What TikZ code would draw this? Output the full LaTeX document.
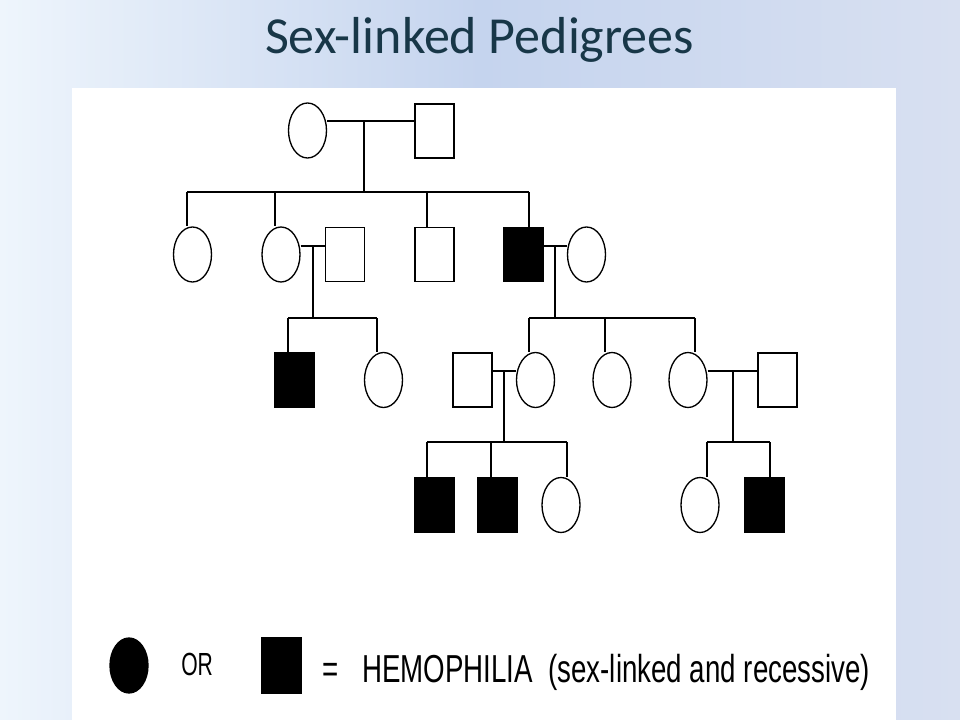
\documentclass[tikz,border=0pt]{standalone}
\usepackage{fontspec}
\setmainfont{Liberation Sans}
\newfontfamily\titlefont{Carlito}
\usetikzlibrary{shapes.geometric}
\definecolor{titlecol}{RGB}{24,55,72}
\definecolor{bgleft}{RGB}{238,245,252}
\definecolor{bgmid}{RGB}{197,212,238}
\definecolor{bgright}{RGB}{216,224,241}
\tikzset{
  female/.style={draw=black, ellipse, minimum width=28.5pt, minimum height=41.25pt, inner sep=0pt, line width=1pt},
  male/.style={draw=black, rectangle, minimum width=29.25pt, minimum height=40.5pt, inner sep=0pt, line width=1pt},
  affected/.style={fill=black},
  link/.style={line width=1.1pt, black},
}
\begin{document}
\begin{tikzpicture}[x=0.75pt, y=-0.75pt]
\useasboundingbox (0,0) rectangle (960,720);
\shade[left color=bgleft, right color=bgright, middle color=bgmid] (0,0) rectangle (960,720);
\fill[white] (72,88) rectangle (896,720);
\node[font=\titlefont\fontsize{39pt}{44pt}\selectfont, text=titlecol, anchor=base, inner sep=0pt] (title) at (479.5,54) {Sex-linked Pedigrees};

% generation 1
\node[female] (g1f) at (307.5,130.5) {};
\node[male] (g1m) at (434.5,131) {};
% generation 2
\node[female] (g2a) at (192.5,254.5) {};
\node[female] (g2b) at (281,254.5) {};
\node[male] (g2bh) at (345,254.5) {};
\node[male] (g2c) at (434.5,254.5) {};
\node[male, affected] (g2d) at (523.5,254.5) {};
\node[female] (g2dw) at (586.5,254.5) {};
% generation 3
\node[male, affected] (g3a) at (294.5,380) {};
\node[female] (g3b) at (383.5,380) {};
\node[male] (g3ch) at (472.5,380) {};
\node[female] (g3c) at (535.5,380) {};
\node[female] (g3d) at (612,380) {};
\node[female] (g3e) at (688,380) {};
\node[male] (g3eh) at (777.5,380) {};
% generation 4
\node[male, affected] (g4a) at (434.5,505) {};
\node[male, affected] (g4b) at (497.5,505) {};
\node[female] (g4c) at (561,505) {};
\node[female] (g4d) at (700,505) {};
\node[male, affected] (g4e) at (764.5,505) {};

% junction coordinates
\coordinate (m1) at (364,121);
\coordinate (s1) at (364,192);
\coordinate (s1a) at (187,192);
\coordinate (s1b) at (275,192);
\coordinate (s1c) at (427,192);
\coordinate (s1d) at (529,192);
\coordinate (m2) at (313,246);
\coordinate (s2) at (313,318);
\coordinate (s2a) at (288,318);
\coordinate (s2b) at (377,318);
\coordinate (m3) at (555,246);
\coordinate (s3) at (555,318);
\coordinate (s3a) at (529,318);
\coordinate (s3b) at (605,318);
\coordinate (s3c) at (695,318);
\coordinate (m4) at (504,371);
\coordinate (s4) at (504,442);
\coordinate (s4a) at (427,442);
\coordinate (s4b) at (491,442);
\coordinate (s4c) at (567,442);
\coordinate (m5) at (733,371);
\coordinate (s5) at (733,442);
\coordinate (s5a) at (707,442);
\coordinate (s5b) at (770,442);

% generation 1 family
\draw[link] (g1f.east |- m1) -- (g1m.west |- m1);
\draw[link] (m1) -- (s1);
\draw[link] (s1a) -- (s1d);
\draw[link] (s1a) -- (s1a |- g2a.north);
\draw[link] (s1b) -- (s1b |- g2b.north);
\draw[link] (s1c) -- (s1c |- g2c.north);
\draw[link] (s1d) -- (s1d |- g2d.north);
% left family gen 2
\draw[link] (g2b.east |- m2) -- (g2bh.west |- m2);
\draw[link] (m2) -- (s2);
\draw[link] (s2a) -- (s2b);
\draw[link] (s2a) -- (s2a |- g3a.north);
\draw[link] (s2b) -- (s2b |- g3b.north);
% right family gen 2
\draw[link] (g2d.east |- m3) -- (g2dw.west |- m3);
\draw[link] (m3) -- (s3);
\draw[link] (s3a) -- (s3c);
\draw[link] (s3a) -- (s3a |- g3c.north);
\draw[link] (s3b) -- (s3b |- g3d.north);
\draw[link] (s3c) -- (s3c |- g3e.north);
% gen 3 families
\draw[link] (g3ch.east |- m4) -- (g3c.west |- m4);
\draw[link] (m4) -- (s4);
\draw[link] (s4a) -- (s4c);
\draw[link] (s4a) -- (s4a |- g4a.north);
\draw[link] (s4b) -- (s4b |- g4b.north);
\draw[link] (s4c) -- (s4c |- g4c.north);
\draw[link] (g3e.east |- m5) -- (g3eh.west |- m5);
\draw[link] (m5) -- (s5);
\draw[link] (s5a) -- (s5b);
\draw[link] (s5a) -- (s5a |- g4d.north);
\draw[link] (s5b) -- (s5b |- g4e.north);

% legend
\node[female, affected] (lc) at (129,665.5) {};
\node[male, affected, minimum height=41.25pt] (ls) at (281.5,665.5) {};
\node[anchor=base west, inner sep=0pt, font=\fontsize{24pt}{28pt}\selectfont] (lor) at (181,675) {\scalebox{0.66}[1]{OR}};
\node[anchor=base west, inner sep=0pt, font=\fontsize{29.25pt}{34pt}\selectfont] (leq) at (322,682) {\scalebox{0.71}[1]{=}};
\node[anchor=base west, inner sep=0pt, font=\fontsize{29.25pt}{34pt}\selectfont] (ltext) at (362,682) {\scalebox{0.71}[1]{HEMOPHILIA\ \ (sex-linked and recessive)}};
\end{tikzpicture}
\end{document}
